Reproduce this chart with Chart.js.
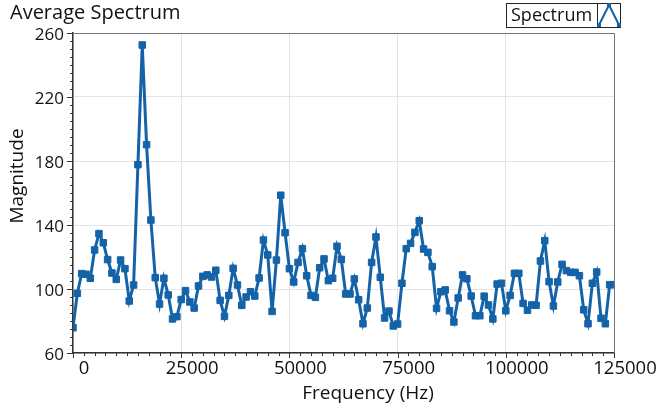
<!DOCTYPE html>
<html>
<head>
<meta charset="utf-8">
<script src="https://cdn.jsdelivr.net/npm/chart.js@4.4.1/dist/chart.umd.min.js"></script>
<style>
  html, body { margin: 0; padding: 0; background: #fff; }
  #wrap { width: 662px; height: 410px; position: relative; }
</style>
</head>
<body>
<div id="wrap"><canvas id="spectrum" width="662" height="410"></canvas></div>
<script>
// frequency bins (Hz)
const frequencies = [
  0, 1000, 2000, 3000, 4000, 5000, 6000, 7000, 8000, 9000,
  10000, 11000, 12000, 13000, 14000, 15000, 16000, 17000, 18000, 19000,
  20000, 21000, 22000, 23000, 24000, 25000, 26000, 27000, 28000, 29000,
  30000, 31000, 32000, 33000, 34000, 35000, 36000, 37000, 38000, 39000,
  40000, 41000, 42000, 43000, 44000, 45000, 46000, 47000, 48000, 49000,
  50000, 51000, 52000, 53000, 54000, 55000, 56000, 57000, 58000, 59000,
  60000, 61000, 62000, 63000, 64000, 65000, 66000, 67000, 68000, 69000,
  70000, 71000, 72000, 73000, 74000, 75000, 76000, 77000, 78000, 79000,
  80000, 81000, 82000, 83000, 84000, 85000, 86000, 87000, 88000, 89000,
  90000, 91000, 92000, 93000, 94000, 95000, 96000, 97000, 98000, 99000,
  100000, 101000, 102000, 103000, 104000, 105000, 106000, 107000, 108000, 109000,
  110000, 111000, 112000, 113000, 114000, 115000, 116000, 117000, 118000, 119000,
  120000, 121000, 122000, 123000, 124000, 125000
];

// magnitude
const magnitude = [
  75.8, 97.3, 109.6, 109.2, 106.7, 124.4, 134.6, 128.9, 118.4, 110,
  106, 118.1, 112.7, 92.5, 102.5, 177.7, 252.5, 190.2, 143.1, 107.1,
  90.6, 106.7, 96.3, 81.3, 82.7, 93.4, 99, 91.9, 88.1, 101.9,
  107.9, 108.8, 107.5, 111.7, 92.9, 82.9, 96, 112.9, 102.5, 89.8,
  95, 98.3, 95.6, 106.9, 130.6, 121.3, 86, 118.1, 158.6, 135.2,
  112.7, 104.4, 116.6, 125.2, 108.3, 96, 94.8, 113.3, 118.8, 105.2,
  106.7, 126.7, 118.5, 96.9, 96.9, 106.3, 93.3, 78.3, 88.1, 116.6,
  132.5, 107.3, 81.9, 86.2, 76.9, 78.1, 103.6, 125.2, 128.5, 135.4,
  142.7, 125, 122.9, 114, 87.9, 98.3, 99.4, 86.4, 79.4, 94.4,
  108.8, 106.4, 95.6, 83.3, 83.3, 95.5, 90, 81.3, 103.1, 103.6,
  86.4, 96, 109.8, 109.8, 91, 86.7, 90, 89.8, 117.5, 130.2,
  104.6, 89.4, 104.4, 115.4, 111.5, 110.4, 110.4, 108.3, 87, 78.3,
  103.6, 110.6, 81.7, 78.3, 102.7, 102.7
];

const xTicks = [0, 25000, 50000, 75000, 100000, 125000];
const yTicks = [60, 100, 140, 180, 220, 260];
const xMinorStep = 2500;
const yMinorStep = 5;

const blue = "#1463a8";
const font = "'Open Sans', 'Noto Sans', sans-serif";

// minor/major tick marks, plot frame, titles and the boxed legend
const decorations = {
  id: "decorations",
  afterDraw(chart) {
    const { ctx, chartArea: a, scales } = chart;
    const x = scales.x, y = scales.y;
    ctx.save();

    ctx.strokeStyle = "#777";
    ctx.lineWidth = 1;
    ctx.beginPath();
    ctx.moveTo(a.left, a.top + 0.5);
    ctx.lineTo(a.right + 0.5, a.top + 0.5);
    ctx.lineTo(a.right + 0.5, a.bottom);
    ctx.stroke();

    ctx.strokeStyle = "#333";
    ctx.beginPath();
    for (let v = y.min; v <= y.max; v += yMinorStep) {
      const py = Math.round(y.getPixelForValue(v)) + 0.5;
      const len = yTicks.includes(v) ? 6 : 3;
      ctx.moveTo(a.left - len, py);
      ctx.lineTo(a.left, py);
    }
    for (let v = x.min; v <= x.max; v += xMinorStep) {
      const px = Math.round(x.getPixelForValue(v)) + 0.5;
      const len = xTicks.includes(v) ? 5 : 3;
      ctx.moveTo(px, a.bottom);
      ctx.lineTo(px, a.bottom + len);
    }
    ctx.stroke();

    ctx.fillStyle = "#111";
    ctx.textBaseline = "middle";
    ctx.textAlign = "left";
    ctx.font = "20px " + font;
    ctx.fillText("Average Spectrum", 10, 13);

    // axis titles
    ctx.font = "19px " + font;
    ctx.textAlign = "center";
    ctx.fillText("Frequency (Hz)", 368, 394);
    ctx.save();
    ctx.translate(18, 176);
    ctx.rotate(-Math.PI / 2);
    ctx.fillText("Magnitude", 0, 0);
    ctx.restore();

    // legend
    ctx.textAlign = "left";
    ctx.font = "18px " + font;
    ctx.strokeStyle = "#222";
    ctx.strokeRect(506.5, 3.5, 114, 24);
    ctx.beginPath();
    ctx.moveTo(597.5, 3.5);
    ctx.lineTo(597.5, 27.5);
    ctx.stroke();
    ctx.fillText("Spectrum", 511, 16);
    ctx.strokeStyle = blue;
    ctx.lineWidth = 2;
    ctx.beginPath();
    ctx.moveTo(599, 25);
    ctx.lineTo(609, 5);
    ctx.lineTo(619, 25);
    ctx.stroke();
    ctx.fillStyle = blue;
    [[599, 25], [609, 5], [619, 25]].forEach(([px, py]) => ctx.fillRect(px - 2, py - 2, 4, 4));

    ctx.restore();
  }
};

new Chart(document.getElementById("spectrum"), {
  type: "line",
  data: {
    datasets: [
      {
        label: "Spectrum",
        data: frequencies.map((f, i) => ({ x: f, y: magnitude[i] })),
        borderColor: blue,
        backgroundColor: blue,
        borderWidth: 3,
        pointStyle: "rect",
        pointRadius: 4.6,
        pointBorderWidth: 1,
        pointBorderColor: blue,
        tension: 0,
        fill: false,
      },
    ],
  },
  options: {
    responsive: false,
    animation: false,
    layout: { padding: { left: 0, right: 48, top: 33, bottom: 0 } },
    plugins: {
      legend: { display: false },
      title: { display: false },
      tooltip: { enabled: false },
    },
    scales: {
      x: {
        type: "linear",
        min: 0,
        max: 125000,
        afterBuildTicks: (s) => { s.ticks = xTicks.map((v) => ({ value: v })); },
        afterFit: (s) => { s.height = 57; },
        ticks: {
          color: "#111",
          font: { family: font, size: 18.5 },
          padding: 5,
          labelOffset: 11,
          maxRotation: 0,
          autoSkip: false,
          callback: (v) => String(v),
        },
        grid: { color: "#e4e4e4", drawTicks: false },
        border: { display: true, color: "#333", width: 1.5 },
      },
      y: {
        min: 60,
        max: 260,
        afterBuildTicks: (s) => { s.ticks = yTicks.map((v) => ({ value: v })); },
        afterFit: (s) => { s.width = 73; },
        ticks: {
          color: "#111",
          font: { family: font, size: 17 },
          padding: 9,
          labelOffset: 2,
          autoSkip: false,
        },
        grid: { color: "#e4e4e4", drawTicks: false },
        border: { display: true, color: "#333", width: 1.5 },
      },
    },
  },
  plugins: [decorations],
});
</script>
</body>
</html>
